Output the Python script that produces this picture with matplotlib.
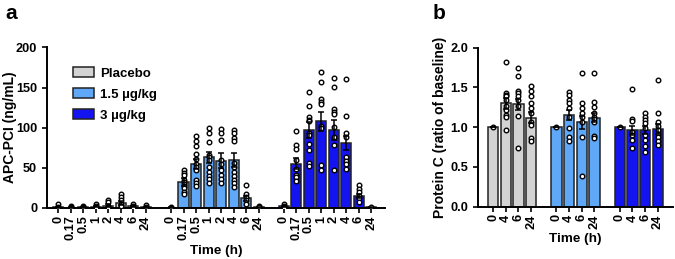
import matplotlib
matplotlib.use("Agg")
import matplotlib.pyplot as plt
import matplotlib.patches as mpatches
import numpy as np

plt.rcParams['font.family'] = ['Liberation Sans', 'DejaVu Sans']
plt.rcParams['font.weight'] = 'bold'
plt.rcParams['axes.labelweight'] = 'bold'

# ---- data, panel a (APC-PCI, ng/mL) ----
times_a = ['0', '0.17', '0.5', '1', '2', '4', '6', '24']
groups = ['Placebo', '1.5 µg/kg', '3 µg/kg']
colors = ['#d3d3d3', '#5fa8f8', '#1414f0']

plac_a_mean = [1, 0.5, 1, 1.5, 3, 6, 2, 1]
plac_a_sem = [0.6, 0.3, 0.5, 0.8, 1.5, 2.5, 0.8, 0.5]
plac_a_pts = [[5, 1, 0, 0, 0], [2, 1, 0, 0], [3, 1, 0, 0], [5, 2, 1, 0],
              [10, 7, 3, 1, 0], [18, 14, 10, 5, 3, 2], [5, 2, 1, 0], [4, 1, 0]]

low_a_mean = [0.5, 32, 55, 63, 59, 60, 12, 1]
low_a_sem = [0.3, 5, 6, 7, 9, 9, 3, 0.5]
low_a_pts = [[1, 0],
             [47, 44, 41, 35, 32, 30, 27.5, 24.6, 20, 17.5],
             [90, 84, 77.5, 67.5, 61, 55, 51, 47.5, 35, 31, 27.5],
             [100, 94, 82, 66, 64, 60, 51, 45, 40, 36, 31],
             [98, 93, 85, 60, 55, 47.5, 41, 36, 31],
             [97.5, 93, 87, 83, 56, 51, 45, 40, 35, 31, 26],
             [29, 18, 14, 10, 5],
             [3, 1]]

high_a_mean = [2, 55, 97.5, 108, 97, 81, 15, 1]
high_a_sem = [1, 7, 10, 12, 12, 9, 3, 0.5]
high_a_pts = [[5, 2, 1, 0],
              [96, 78, 74, 60, 49, 41, 38, 34],
              [145, 127, 113, 110, 108, 94, 91, 80, 72, 56, 52],
              [169, 157, 136, 132, 129, 102, 100, 54, 47],
              [162, 151, 123, 120, 117, 101, 88, 79, 47],
              [161, 114, 94, 88, 63, 59, 55, 48],
              [29, 24, 20, 15, 12, 8],
              [1]]

# ---- data, panel b (Protein C, ratio of baseline) ----
times_b = ['0', '4', '6', '24']

plac_b_mean = [1.0, 1.30, 1.29, 1.12]
plac_b_sem = [0, 0.07, 0.07, 0.07]
plac_b_pts = [[1.0],
              [1.82, 1.43, 1.41, 1.39, 1.34, 1.26, 1.22, 1.15, 1.13, 0.97],
              [1.74, 1.64, 1.46, 1.43, 1.39, 1.34, 1.26, 1.14, 0.74],
              [1.52, 1.45, 1.39, 1.31, 1.24, 1.18, 1.06, 1.03, 0.87, 0.82]]

low_b_mean = [1.0, 1.15, 1.06, 1.12]
low_b_sem = [0, 0.06, 0.08, 0.06]
low_b_pts = [[1.0],
             [1.44, 1.41, 1.34, 1.30, 1.24, 1.13, 0.99, 0.88, 0.83],
             [1.68, 1.30, 1.24, 1.18, 1.13, 1.07, 0.88, 0.39],
             [1.68, 1.32, 1.25, 1.18, 1.13, 1.10, 1.07, 0.89, 0.87]]

high_b_mean = [1.0, 0.96, 0.96, 0.98]
high_b_sem = [0, 0.06, 0.05, 0.06]
high_b_pts = [[1.0],
              [1.48, 1.10, 1.08, 0.94, 0.90, 0.84, 0.74],
              [1.18, 1.13, 1.09, 1.05, 0.99, 0.90, 0.84, 0.76, 0.69],
              [1.59, 1.18, 1.06, 1.01, 0.97, 0.92, 0.88, 0.82, 0.78]]


def draw_group(ax, x, means, sems, pts, color):
    ax.bar(x, means, width=0.8, color=color, edgecolor='#222222', linewidth=1.1, zorder=2)
    for xi, p in zip(x, pts):
        ax.plot([xi] * len(p), p, 'o', ms=3.3, mfc='white', mec='black', mew=1.0, zorder=3)
    ax.errorbar(x, means, yerr=sems, fmt='none', ecolor='black', elinewidth=1.1,
                capsize=2.2, capthick=1.1, zorder=4)


def style(ax):
    for s in ['top', 'right']:
        ax.spines[s].set_visible(False)
    for s in ['left', 'bottom']:
        ax.spines[s].set_linewidth(1.4)
    ax.tick_params(axis='both', width=1.2, length=3.5, labelsize=9.2)
    ax.tick_params(axis='x', pad=2)
    for lab in ax.get_xticklabels() + ax.get_yticklabels():
        lab.set_fontweight('bold')


fig = plt.figure(figsize=(6.75, 2.59), dpi=100)

# panel a
ax1 = fig.add_axes([0.0696, 0.197, 0.501, 0.62])
n = len(times_a)
xs_a = []
for g, (m, s, p, c) in enumerate([(plac_a_mean, plac_a_sem, plac_a_pts, colors[0]),
                                  (low_a_mean, low_a_sem, low_a_pts, colors[1]),
                                  (high_a_mean, high_a_sem, high_a_pts, colors[2])]):
    x = np.arange(n) + g * (n + 1)
    xs_a.extend(x)
    draw_group(ax1, x, m, s, p, c)
ax1.set_xticks(xs_a)
ax1.set_xticklabels(times_a * 3, rotation=90)
ax1.set_xlim(-0.9, 26.1)
ax1.set_ylim(0, 200)
ax1.set_yticks([0, 50, 100, 150, 200])
ax1.set_ylabel('APC-PCI (ng/mL)', fontsize=10, fontweight='bold')
ax1.yaxis.set_label_coords(-0.088, 0.5)
ax1.set_xlabel('Time (h)', fontsize=9.7, fontweight='bold', labelpad=3)
style(ax1)

handles = [mpatches.Patch(facecolor=c, edgecolor='#222222', linewidth=1.1, label=l)
           for c, l in zip(colors, groups)]
ax1.legend(handles=handles, loc='upper left', bbox_to_anchor=(0.056, 0.918), frameon=False,
           handlelength=1.6, handleheight=0.75, labelspacing=0.65, handletextpad=0.5,
           borderpad=0, prop={'size': 9.5, 'weight': 'bold'})

# panel b
ax2 = fig.add_axes([0.708, 0.202, 0.289, 0.614])
n = len(times_b)
xs_b = []
for g, (m, s, p, c) in enumerate([(plac_b_mean, plac_b_sem, plac_b_pts, colors[0]),
                                  (low_b_mean, low_b_sem, low_b_pts, colors[1]),
                                  (high_b_mean, high_b_sem, high_b_pts, colors[2])]):
    x = np.arange(n) + g * (n + 1)
    xs_b.extend(x)
    draw_group(ax2, x, m, s, p, c)
ax2.set_xticks(xs_b)
ax2.set_xticklabels(times_b * 3, rotation=90)
ax2.set_xlim(-1.2, 14.2)
ax2.set_ylim(0, 2.0)
ax2.set_yticks([0, 0.5, 1.0, 1.5, 2.0])
ax2.set_yticklabels(['0.0', '0.5', '1.0', '1.5', '2.0'])
ax2.set_ylabel('Protein C (ratio of baseline)', fontsize=10, fontweight='bold')
ax2.yaxis.set_label_coords(-0.158, 0.5)
ax2.set_xlabel('Time (h)', fontsize=9.7, fontweight='bold', labelpad=3)
style(ax2)

fig.text(0.008, 0.985, 'a', fontsize=15, fontweight='bold', va='top', ha='left')
fig.text(0.641, 0.985, 'b', fontsize=15, fontweight='bold', va='top', ha='left')

fig.savefig('out.png', dpi=100)
